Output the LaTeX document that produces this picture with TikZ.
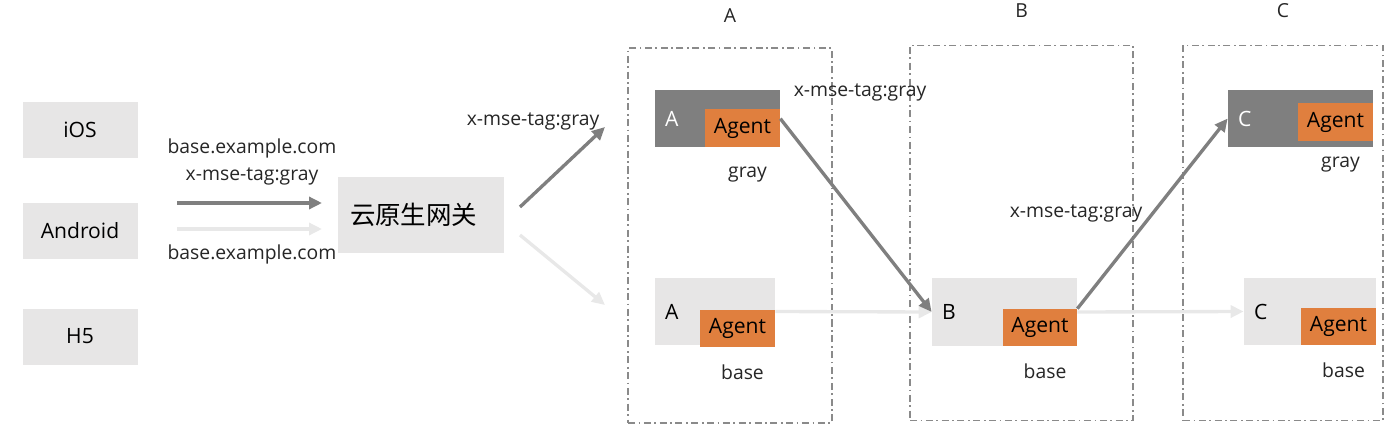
\documentclass[tikz,border=0pt]{standalone}
\usepackage{fontspec}
\setmainfont{Open Sans}
\newfontfamily\cjk{Noto Sans CJK SC}
\usepackage{xcolor}
\usepackage{tikz}
\usetikzlibrary{arrows.meta,positioning,calc}
\definecolor{grisOsc}{HTML}{7F7F7F}
\definecolor{grisCla}{HTML}{E7E6E6}
\definecolor{grisFle}{HTML}{E8E8E8}
\definecolor{naranja}{HTML}{E07F3E}
\definecolor{grisMarco}{HTML}{8A8A8A}
\tikzset{
  cliente/.style={fill=grisCla, minimum width=2.3cm, minimum height=1.12cm, font=\fontsize{12}{14}\selectfont},
  servicio/.style 2 args={fill=#1, minimum height=1.14cm, text width=#2, align=left, inner xsep=0.2cm, inner ysep=0pt, font=\fontsize{12}{14}\selectfont},
  agente/.style={fill=naranja, minimum width=1.5cm, minimum height=0.76cm, inner sep=0pt, font=\fontsize{12}{14}\selectfont},
  etiq/.style={text=black!85, font=\fontsize{11}{13}\selectfont, inner sep=1pt},
  marco/.style={draw=grisMarco, line width=0.6pt, dash pattern=on 4pt off 2pt on 1pt off 2pt, minimum width=#1, minimum height=7.5cm},
  flechaosc/.style={-{Triangle[length=2.6mm,width=2.4mm]}, draw=grisOsc, line width=1.9pt},
  flechacla/.style={-{Triangle[length=2.6mm,width=2.4mm]}, draw=grisFle, line width=1.9pt},
}
\begin{document}
\begin{tikzpicture}[node distance=0.3cm]
\useasboundingbox (0,0) rectangle (28,-8.66);
\node[cliente] (ios) at (1.6,-2.6) {iOS};
\node[cliente] (and) at (1.6,-4.62) {Android};
\node[cliente] (h5) at (1.6,-6.73) {H5};
\node[fill=grisCla, minimum width=3.32cm, minimum height=1.52cm, text width=2.84cm, align=left, inner xsep=0.24cm, font=\cjk\fontsize{14.5}{17}\selectfont] (gw) at (8.42,-4.3) {云原生网关};
\node[marco=4.08cm] (colA) at (14.6,-4.71) {};
\node[marco=4.46cm] (colB) at (20.43,-4.66) {};
\node[marco=4.0cm] (colC) at (25.66,-4.66) {};
\node[etiq, above=0.45cm of colA] (tA) {A};
\node[etiq, above=0.5cm of colB] (tB) {B};
\node[etiq, above=0.5cm of colC] (tC) {C};
\node[servicio={grisOsc}{2.1cm}, text=white] (ag) at (14.35,-2.37) {A};
\node[agente, anchor=south east] (agA) at (ag.south east) {Agent};
\node[servicio={grisCla}{2.0cm}, minimum height=1.34cm] (ab) at (14.3,-6.23) {A};
\node[agente, anchor=south east, minimum height=0.74cm] (abA) at ($(ab.south east)+(0,-0.04)$) {Agent};
\node[servicio={grisCla}{2.5cm}, minimum height=1.36cm] (bb) at (20.09,-6.24) {B};
\node[agente, anchor=south east, minimum width=1.48cm, minimum height=0.74cm] (bbA) at (bb.south east) {Agent};
\node[servicio={grisOsc}{2.5cm}, text=white] (cg) at (26.01,-2.37) {C};
\node[agente, anchor=south east] (cgA) at ($(cg.south east)+(0,0.12)$) {Agent};
\node[servicio={grisCla}{2.24cm}, minimum height=1.34cm] (cb) at (26.2,-6.23) {C};
\node[agente, anchor=south east, minimum height=0.74cm] (cbA) at (cb.south east) {Agent};
\node[etiq, below=0.36cm of agA, xshift=0.1cm] (lg1) {gray};
\node[etiq, below=of abA, xshift=0.1cm] (lb1) {base};
\node[etiq, below=of bbA, xshift=0.1cm] (lb2) {base};
\node[etiq, below=0.28cm of cgA, xshift=0.1cm] (lg2) {gray};
\node[etiq, below=of cbA, xshift=0.1cm] (lb3) {base};
\node[etiq] (t1) at (5.04,-2.96) {base.example.com};
\node[etiq] (t2) at (5.04,-3.52) {x-mse-tag:gray};
\node[etiq] (t3) at (5.04,-5.08) {base.example.com};
\node[etiq] (t4) at (10.66,-2.42) {x-mse-tag:gray};
\node[etiq] (t5) at (17.2,-1.84) {x-mse-tag:gray};
\node[etiq] (t6) at (21.52,-4.26) {x-mse-tag:gray};
\coordinate (p1) at (3.54,-4.06);
\coordinate (q1) at (6.44,-4.06);
\coordinate (p2) at (3.54,-4.58);
\coordinate (q2) at (6.44,-4.58);
\coordinate (p3) at (10.4,-4.14);
\coordinate (q3) at (12.1,-2.54);
\coordinate (p4) at (10.4,-4.7);
\coordinate (q4) at (12.1,-6.1);
\draw[flechaosc] (p1) -- (q1);
\draw[flechacla] (p2) -- (q2);
\draw[flechaosc] (p3) -- (q3);
\draw[flechacla] (p4) -- (q4);
\draw[flechacla] (ab.east) -- (bb.west);
\draw[flechacla] (bb.east) -- (cb.west);
\draw[flechaosc] ($(agA.north east)+(0,-0.2)$) -- (bb.west);
\draw[flechaosc] (bbA.north east) -- (cg.west);
\end{tikzpicture}
\end{document}
